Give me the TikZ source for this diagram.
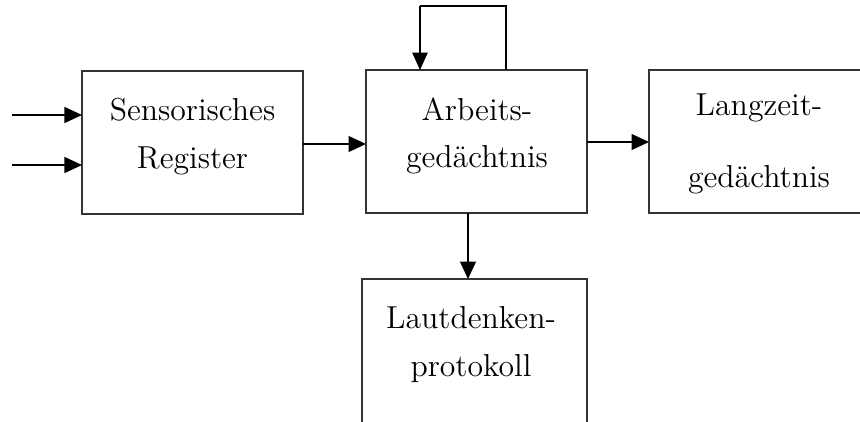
\documentclass[tikz,border=0pt]{standalone}
\usetikzlibrary{arrows.meta}
\begin{document}
\begin{tikzpicture}[x=0.4pt,y=-0.4pt,
  box/.style={draw=black!80,line width=0.6pt,rectangle,inner sep=0pt,outer sep=0pt,
              minimum height=57.2pt},
  lbl/.style={anchor=base,inner sep=0pt,font=\fontsize{12.7}{14}\selectfont},
  flow/.style={line width=0.5pt,-{Triangle[length=7pt,width=6.4pt]}},
  loop/.style={line width=0.45pt}]
  \clip (0,0) rectangle (860,421);
  \fill[white] (0,0) rectangle (860,421);

  % blocks
  \node[box,minimum width=88.4pt] (sens) at (192.5,142.5) {};
  \node[box,minimum width=88.4pt] (arb)  at (476.5,141.5) {};
  \node[box,minimum width=88pt]   (lang) at (759,141.5)   {};
  \node[box,minimum width=90pt,minimum height=64.4pt] (laut) at (474.5,359.5) {};

  % block texts
  \node[lbl] (t1a) at (192.5,120) {Sensorisches};
  \node[lbl] (t1b) at (192.5,168) {Register};
  \node[lbl] (t2a) at (477,120) {Arbeits-};
  \node[lbl] (t2b) at (477,167) {gedächtnis};
  \node[lbl] (t3a) at (759,115) {Langzeit-};
  \node[lbl] (t3b) at (759,187) {gedächtnis};
  \node[lbl] (t4a) at (471,328) {Lautdenken-};
  \node[lbl] (t4b) at (471,376) {protokoll};

  % inputs
  \coordinate (in1) at (12,115);
  \coordinate (in2) at (12,165);
  \draw[flow] (in1) -- (sens.west |- in1);
  \draw[flow] (in2) -- (sens.west |- in2);

  % main chain
  \coordinate (s1) at (303,144);
  \draw[flow] (sens.east |- s1) -- (arb.west |- s1);
  \coordinate (s2) at (587,142);
  \draw[flow] (arb.east |- s2) -- (lang.west |- s2);
  \coordinate (s3) at (468,0);
  \draw[flow] (arb.south -| s3) -- (laut.north -| s3);

  % feedback loop on the working memory
  \coordinate (fbR) at (506,6);
  \coordinate (fbL) at (420,6);
  \draw[loop] (arb.north -| fbR) -- (fbR) -- (fbL);
  \draw[loop,-{Triangle[length=7pt,width=6.2pt]}] (fbL) -- (arb.north -| fbL);
\end{tikzpicture}
\end{document}
